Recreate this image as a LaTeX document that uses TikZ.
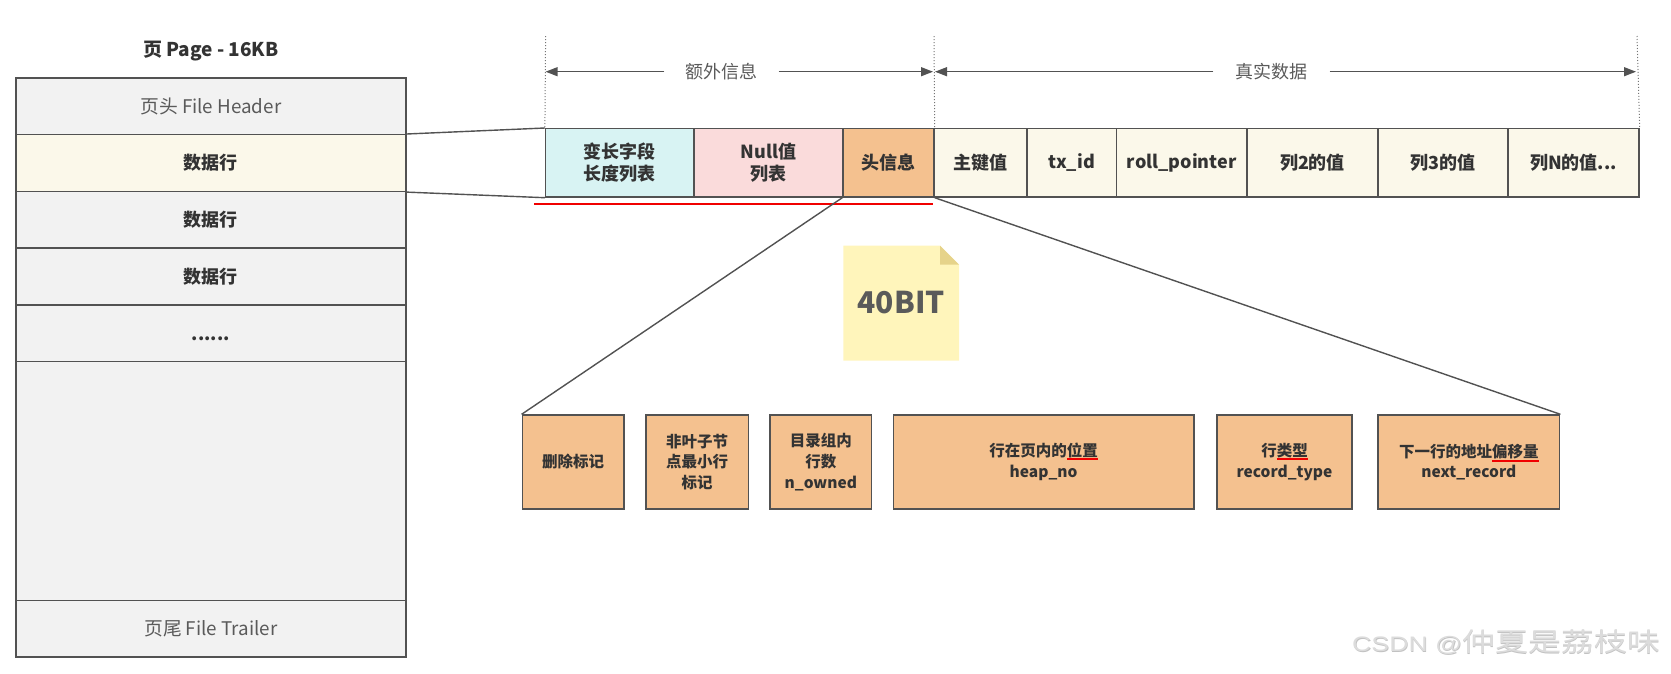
\documentclass[tikz,border=0pt]{standalone}
\usepackage{fontspec}
\usepackage{graphicx}
\newfontfamily\cjk{Noto Sans CJK SC}
\newfontfamily\wmlatin{Liberation Sans}
\usetikzlibrary{arrows.meta,calc}
\definecolor{linec}{HTML}{525252}
\definecolor{textc}{HTML}{333333}
\definecolor{softtext}{HTML}{5A5A5A}
\definecolor{pagegray}{HTML}{F2F2F2}
\definecolor{cream}{HTML}{FBF8EA}
\definecolor{cyanc}{HTML}{D8F3F3}
\definecolor{pinkc}{HTML}{FADBDB}
\definecolor{orangec}{HTML}{F4C18F}
\definecolor{notefill}{HTML}{FFF5BB}
\definecolor{notefold}{HTML}{E6D38A}
\definecolor{wmgray}{HTML}{DCDCDC}
\definecolor{wmshadow}{HTML}{C2C2C2}
\definecolor{redc}{HTML}{F00000}
\newsavebox\ulbox
\newcommand\redul[2][-3pt]{\sbox\ulbox{#2}\rlap{\textcolor{redc}{\rule[#1]{\wd\ulbox}{1.6pt}}}\usebox\ulbox}
\newcommand\wmtext{\scalebox{1.27}[1]{{\wmlatin\fontsize{21}{22}\selectfont CSDN @}{\cjk\fontsize{26}{28}\selectfont 仲夏是荔枝味}}}
\begin{document}
\begin{tikzpicture}[x=1pt,y=-1pt,
  cellbase/.style={draw=linec, line width=1.4pt, inner sep=0pt, align=center, text=textc,
    font=\cjk\bfseries\fontsize{18}{22}\selectfont},
  pagerow/.style={cellbase, fill=pagegray, minimum width=390pt, minimum height=56.7pt},
  softrow/.style={pagerow, text=softtext, font=\cjk\fontsize{18.8}{22}\selectfont},
  rowcell/.style={cellbase, minimum height=68.3pt},
  bitcell/.style={cellbase, fill=orangec, minimum height=94pt,
    font=\cjk\bfseries\fontsize{15.5}{20.7}\selectfont},
  conn/.style={draw=linec, line width=1.4pt},
  dimline/.style={draw=linec, line width=1.3pt, -{Triangle[length=12pt,width=9pt]}},
  guide/.style={draw=linec!80, line width=1pt, dotted},
  dimlabel/.style={text=softtext, font=\cjk\fontsize{18}{22}\selectfont, inner xsep=21pt, inner ysep=2pt}
]
\useasboundingbox (0,0) rectangle (1671,673);

% ---------- page ----------
\node[text=textc, font=\cjk\bfseries\fontsize{19}{22}\selectfont] (title) at (210.8,51) {页 Page - 16KB};
\node[softrow] (hdr) at (210.8,106.35) {页头 File Header};
\node[pagerow, fill=cream] (r1) at (210.8,163.05) {数据行};
\node[pagerow] (r2) at (210.8,219.75) {数据行};
\node[pagerow] (r3) at (210.8,276.45) {数据行};
\node[pagerow] (r4) at (210.8,333.15) {};
\node[text=textc, font=\cjk\bfseries\fontsize{18}{22}\selectfont, inner sep=0pt] (r4t) at (210.8,338.5) {......};
\node[pagerow, minimum height=239pt] (body) at (210.8,481) {};
\node[softrow] (trl) at (210.8,628.75) {页尾 File Trailer};

% ---------- row ----------
\node[rowcell, fill=cyanc, minimum width=148.4pt] (vl) at (619.8,162.85) {变长字段\\长度列表};
\node[rowcell, fill=pinkc, minimum width=149pt] (nul) at (768.5,162.85) {Null值\\列表};
\node[rowcell, fill=orangec, minimum width=91pt] (hi) at (888.5,162.85) {头信息};
\node[rowcell, fill=cream, minimum width=93pt] (pk) at (980.5,162.85) {主键值};
\node[rowcell, fill=cream, minimum width=89.3pt] (tx) at (1071.65,162.85) {tx\_id};
\node[rowcell, fill=cream, minimum width=130.7pt] (roll) at (1181.65,162.85) {roll\_pointer};
\node[rowcell, fill=cream, minimum width=131pt] (c2) at (1312.5,162.85) {列2的值};
\node[rowcell, fill=cream, minimum width=130pt] (c3) at (1443,162.85) {列3的值};
\node[rowcell, fill=cream, minimum width=131pt] (cn) at (1573.5,162.85) {列N的值...};

% connectors from page row to record
\draw[conn] (r1.north east) -- (vl.north west);
\draw[conn] (r1.south east) -- (vl.south west);

% red underline of extra info
\draw[draw=redc, line width=1.6pt] ($(vl.south west)+(-10.6,6.5)$) -- ($(hi.south east)+(-2,6.5)$);

% ---------- dimension arrows ----------
\coordinate (g1t) at (545.6,36);
\coordinate (g2t) at (934,36);
\coordinate (g3t) at (1637,36);
\draw[guide] (g1t) -- (vl.north west);
\draw[guide] (g2t) -- (hi.north east);
\draw[guide] (g3t) -- (cn.north east);
\coordinate (a1) at (545.6,71.7);
\coordinate (a2) at (933,71.7);
\coordinate (a3) at (935,71.7);
\coordinate (a4) at (1636,71.7);
\node[dimlabel] (ex) at (721.5,71.7) {额外信息};
\node[dimlabel, inner xsep=22pt] (re) at (1271.5,71.7) {真实数据};
\draw[dimline] (ex.west) -- (a1);
\draw[dimline] (ex.east) -- (a2);
\draw[dimline] (re.west) -- (a3);
\draw[dimline] (re.east) -- (a4);

% ---------- note ----------
\fill[notefill] (843.3,245.7) -- (940,245.7) -- (959,264.7) -- (959,360.7) -- (843.3,360.7) -- cycle;
\fill[notefold] (940,245.7) -- (959,264.7) -- (940,264.7) -- cycle;
\node[text=softtext, font=\cjk\bfseries\fontsize{30}{30}\selectfont, inner sep=0pt] (note) at (901.2,302.5) {40BIT};

% ---------- header bits ----------
\node[bitcell, minimum width=101.7pt] (b1) at (573.15,462) {删除标记};
\node[bitcell, minimum width=102.3pt] (b2) at (697.15,462) {非叶子节\\点最小行\\标记};
\node[bitcell, minimum width=101.7pt] (b3) at (820.85,462) {目录组内\\行数\\n\_owned};
\node[bitcell, minimum width=300.5pt] (b4) at (1043.55,462) {行在页内的\redul{位置}\\heap\_no};
\node[bitcell, minimum width=135pt] (b5) at (1284.5,462) {行\redul{类型}\\record\_type};
\node[bitcell, minimum width=181.7pt] (b6) at (1468.85,462) {下一行的地址\redul[-5pt]{偏移量}\\next\_record};

\draw[conn] (hi.south west) -- (b1.north west);
\draw[conn] (hi.south east) -- (b6.north east);

% ---------- watermark ----------
\node[anchor=west, text=wmshadow, inner sep=0pt] (wms) at (1352.6,642.6) {\wmtext};
\node[anchor=west, text=wmgray, inner sep=0pt] (wm) at (1352,642) {\wmtext};
\end{tikzpicture}
\end{document}
